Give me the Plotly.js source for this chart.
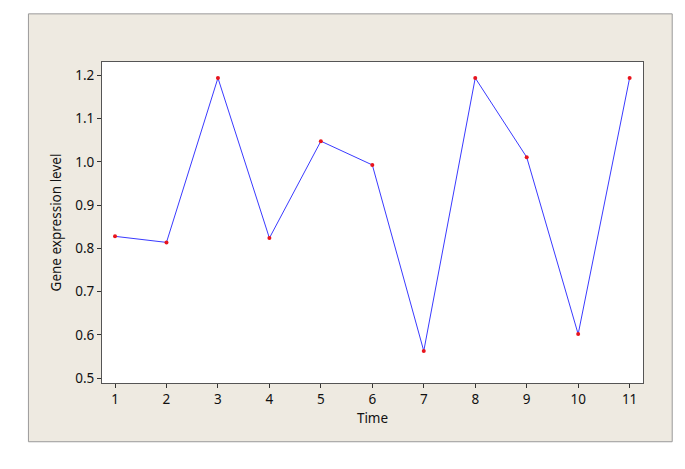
<!DOCTYPE html>
<html>
<head>
<meta charset="utf-8">
<script src="https://cdn.plot.ly/plotly-3.0.1.min.js"></script>
<style>
  html, body { margin: 0; padding: 0; background: #fff; }
  #plot { width: 685px; height: 469px; }
</style>
</head>
<body>
<div id="plot"></div>
<script>
const times = [1, 2, 3, 4, 5, 6, 7, 8, 9, 10, 11];
const expression = [0.828, 0.814, 1.194, 0.824, 1.048, 0.993, 0.563, 1.194, 1.011, 0.602, 1.194];
const yTicks = [0.5, 0.6, 0.7, 0.8, 0.9, 1.0, 1.1, 1.2];
const yTickText = ['0.5', '0.6', '0.7', '0.8', '0.9', '1.0', '1.1', '1.2'];

const font = { family: 'Noto Sans, DejaVu Sans, sans-serif', size: 13.5, color: '#111' };

const trace = {
  x: times,
  y: expression,
  type: 'scatter',
  mode: 'lines+markers',
  line: { color: '#3a3aff', width: 1 },
  marker: { color: '#e8141c', size: 4 },
  hoverinfo: 'x+y'
};

const layout = {
  width: 685,
  height: 469,
  margin: { l: 102, r: 42, t: 62, b: 86, pad: 0 },
  paper_bgcolor: '#ffffff',
  plot_bgcolor: '#ffffff',
  showlegend: false,
  font: font,
  shapes: [
    {
      type: 'rect', xref: 'paper', yref: 'paper', layer: 'below',
      x0: -0.136, x1: 1.054, y0: -0.183, y1: 1.150,
      fillcolor: '#eeeae1', line: { color: '#9a9a9a', width: 1 }
    },
    {
      type: 'rect', xref: 'paper', yref: 'paper', layer: 'below',
      x0: 0, x1: 1, y0: 0, y1: 1,
      fillcolor: '#ffffff', line: { width: 0 }
    }
  ],
  xaxis: {
    range: [0.747, 11.26],
    tickvals: times,
    ticks: 'outside',
    ticklen: 4,
    tickcolor: '#333',
    showline: true,
    linecolor: '#555',
    linewidth: 1,
    mirror: true,
    showgrid: false,
    zeroline: false,
    tickfont: font,
    title: { text: 'Time', font: font, standoff: 6 }
  },
  yaxis: {
    range: [0.489, 1.231],
    tickvals: yTicks,
    ticktext: yTickText,
    ticks: 'outside',
    ticklen: 4,
    tickcolor: '#333',
    showline: true,
    linecolor: '#555',
    linewidth: 1,
    mirror: true,
    showgrid: false,
    zeroline: false,
    tickfont: font,
    title: { text: 'Gene expression level', font: font, standoff: 10 }
  }
};

Plotly.newPlot('plot', [trace], layout, { displayModeBar: false, staticPlot: true });
</script>
</body>
</html>
